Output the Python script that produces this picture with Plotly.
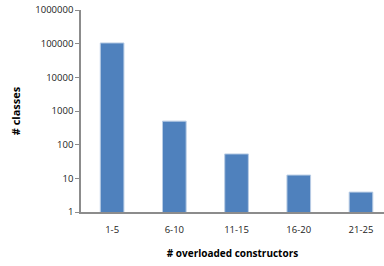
import plotly.graph_objects as go

categories = ["1-5", "6-10", "11-15", "16-20", "21-25"]
classes = [105000, 500, 53, 12.5, 3.9]
y_ticks = [1, 10, 100, 1000, 10000, 100000, 1000000]
y_tick_labels = ["1", "10", "100", "1000", "10000", "100000", "1000000"]

fig = go.Figure(go.Bar(
    x=categories, y=classes,
    marker=dict(color="#4F81BD", line=dict(color="#B9CDE5", width=1)),
    width=0.38,
))

font = "Open Sans, DejaVu Sans, sans-serif"
fig.update_layout(
    width=384, height=266,
    margin=dict(l=81, r=0, t=10, b=54),
    paper_bgcolor="white", plot_bgcolor="white",
    showlegend=False,
    font=dict(family=font, size=9, color="#222"),
)
fig.update_xaxes(
    range=[-0.5, 4.37], automargin=False,
    showline=True, linecolor="#8C8C8C", linewidth=1.5,
    ticks="outside", ticklen=8, tickcolor="rgba(0,0,0,0)",
    showgrid=False,
    tickfont=dict(size=9.5),
    title=dict(text="<b># overloaded constructors</b>", font=dict(size=10, color="#000"), standoff=15),
)
fig.update_yaxes(
    type="log", range=[0, 6], automargin=False,
    tickvals=y_ticks, ticktext=y_tick_labels,
    showline=True, linecolor="#8C8C8C", linewidth=1.5,
    ticks="outside", ticklen=4, tickcolor="#8C8C8C",
    showgrid=False, zeroline=False,
    tickfont=dict(size=9.5),
    title=dict(text="<b># classes</b>", font=dict(size=11, color="#000"), standoff=12),
)

fig.write_html("out.html", config={"displayModeBar": False},
               post_script="document.body.style.margin='0px';")
